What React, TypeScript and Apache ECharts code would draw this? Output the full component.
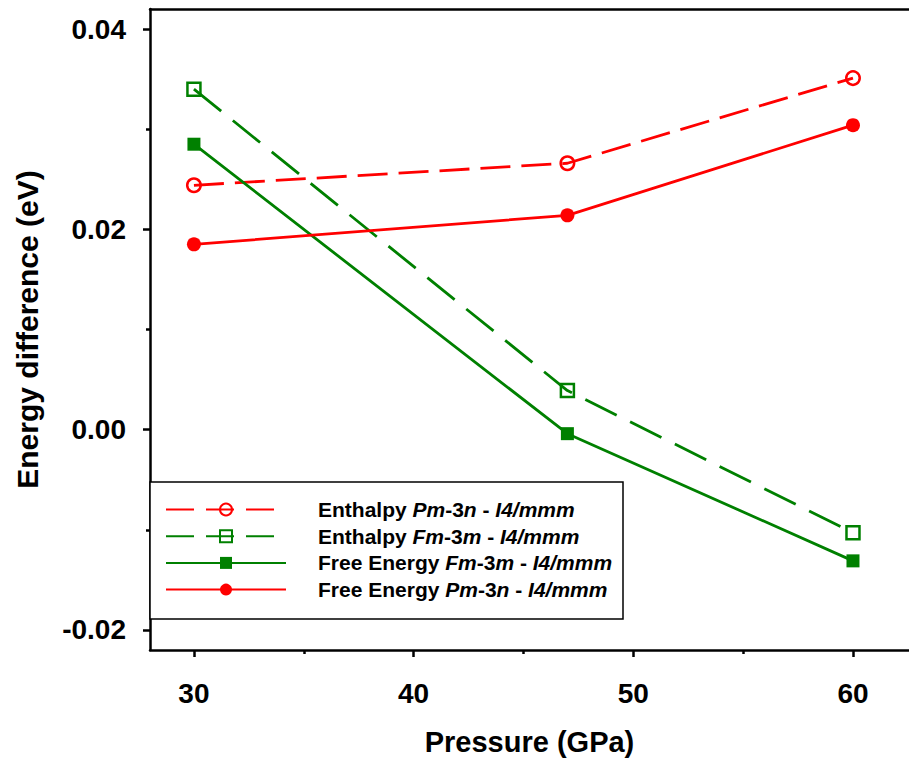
import React, { useEffect, useRef } from "react";
import * as echarts from "echarts";

// Pressure points (GPa)
const pressures = [30, 47, 60];

// Energy differences (eV)
const enthalpyPm3n = [0.0244, 0.0266, 0.0351];
const enthalpyFm3m = [0.034, 0.0039, -0.0103];
const freeEnergyFm3m = [0.0285, -0.0004, -0.0131];
const freeEnergyPm3n = [0.0185, 0.0214, 0.0304];

// Axis ticks
const xMajorTicks = [30, 40, 50, 60];
const xMinorTicks = [35, 45, 55];
const yMajorTicks = [-0.02, 0, 0.02, 0.04];
const yMinorTicks = [-0.01, 0.01, 0.03];

const seriesNames = [
  "Enthalpy Pm-3n - I4/mmm",
  "Enthalpy Fm-3m - I4/mmm",
  "Free Energy Fm-3m - I4/mmm",
  "Free Energy Pm-3n - I4/mmm",
];

// Rich-text legend labels (italic space-group symbols)
const legendLabels: Record<string, string> = {
  [seriesNames[0]]: "{b|Enthalpy }{i|Pm}{b|-3}{i|n}{b| - }{i|I4/mmm}",
  [seriesNames[1]]: "{b|Enthalpy }{i|Fm}{b|-3}{i|m}{b| - }{i|I4/mmm}",
  [seriesNames[2]]: "{b|Free Energy }{i|Fm}{b|-3}{i|m}{b| - }{i|I4/mmm}",
  [seriesNames[3]]: "{b|Free Energy }{i|Pm}{b|-3}{i|n}{b| - }{i|I4/mmm}",
};

const RED = "#ff0000";
const GREEN = "#008000";
const FONT = "'Liberation Sans', Arial, sans-serif";

const pairs = (ys: number[]) => pressures.map((p, i) => [p, ys[i]]);

export default function App() {
  const ref = useRef<HTMLDivElement>(null);

  useEffect(() => {
    document.body.style.margin = "0";
    if (!ref.current) return;
    const chart = echarts.init(ref.current, undefined, { renderer: "svg" });

    const bold = (size: number) => ({
      fontFamily: FONT,
      fontWeight: "bold" as const,
      fontSize: size,
      color: "#000",
    });

    const lineSeries = (
      name: string,
      ys: number[],
      color: string,
      dash: number[] | null,
      symbol: string,
      size: number,
      hollow: boolean
    ) => ({
      name,
      type: "line",
      xAxisIndex: 0,
      yAxisIndex: 0,
      data: pairs(ys),
      symbol,
      symbolSize: size,
      showAllSymbol: true,
      lineStyle: {
        color,
        width: 2.8,
        type: dash ? dash : "solid",
      },
      itemStyle: hollow
        ? { color: "rgba(0,0,0,0)", borderColor: color, borderWidth: 2.5 }
        : { color, borderWidth: 0 },
      emphasis: { disabled: true },
    });

    const X_MIN = 28;
    const X_MAX = 62.55;
    const Y_MIN = -0.022;
    const Y_MAX = 0.042;

    const legendDash = [28, 12];

    chart.setOption({
      animation: false,
      backgroundColor: "#fff",
      grid: {
        left: 150,
        top: 9,
        right: 0,
        bottom: 108,
      },
      xAxis: [
        {
          type: "value",
          min: X_MIN,
          max: X_MAX,
          position: "bottom",
          name: "Pressure (GPa)",
          nameLocation: "middle",
          nameGap: 77,
          nameTextStyle: bold(29),
          axisLine: { show: true, onZero: false, lineStyle: { color: "#000", width: 2.5 } },
          axisTick: {
            show: true,
            customValues: xMajorTicks,
            length: 7,
            lineStyle: { color: "#000", width: 2.5 },
          },
          axisLabel: { ...bold(28), customValues: xMajorTicks, margin: 29 },
          splitLine: { show: false },
        },
        {
          type: "value",
          min: X_MIN,
          max: X_MAX,
          position: "bottom",
          axisLine: { show: false, onZero: false },
          axisTick: {
            show: true,
            customValues: xMinorTicks,
            length: 4,
            lineStyle: { color: "#000", width: 2.5 },
          },
          axisLabel: { show: false },
          splitLine: { show: false },
        },
        {
          // top frame line
          type: "value",
          min: X_MIN,
          max: X_MAX,
          position: "top",
          axisLine: { show: true, onZero: false, lineStyle: { color: "#000", width: 2.5 } },
          axisTick: { show: false },
          axisLabel: { show: false },
          splitLine: { show: false },
        },
      ],
      yAxis: [
        {
          type: "value",
          min: Y_MIN,
          max: Y_MAX,
          position: "left",
          name: "Energy difference (eV)",
          nameLocation: "middle",
          nameGap: 108,
          nameRotate: 90,
          nameTextStyle: bold(30),
          axisLine: { show: true, onZero: false, lineStyle: { color: "#000", width: 2.5 } },
          axisTick: {
            show: true,
            customValues: yMajorTicks,
            length: 7,
            lineStyle: { color: "#000", width: 2.5 },
          },
          axisLabel: {
            ...bold(28),
            customValues: yMajorTicks,
            margin: 24,
            formatter: (v: number) => v.toFixed(2),
          },
          splitLine: { show: false },
        },
        {
          type: "value",
          min: Y_MIN,
          max: Y_MAX,
          position: "left",
          axisLine: { show: false, onZero: false },
          axisTick: {
            show: true,
            customValues: yMinorTicks,
            length: 4,
            lineStyle: { color: "#000", width: 2.5 },
          },
          axisLabel: { show: false },
          splitLine: { show: false },
        },
      ],
      graphic: [
        {
          type: "rect",
          z: 3,
          shape: { x: 150, y: 482, width: 473, height: 137 },
          style: { fill: "#fff", stroke: "#000", lineWidth: 1.5 },
        },
      ],
      legend: {
        orient: "vertical",
        left: 165,
        top: 499,
        padding: 0,
        itemWidth: 120,
        itemHeight: 15,
        itemGap: 5.7,
        selectedMode: false,
        z: 5,
        data: [
          { name: seriesNames[0], lineStyle: { type: legendDash } },
          { name: seriesNames[1], lineStyle: { type: legendDash } },
          { name: seriesNames[2] },
          { name: seriesNames[3] },
        ],
        formatter: (name: string) => legendLabels[name],
        textStyle: {
          fontFamily: FONT,
          fontSize: 21,
          color: "#000",
          padding: [0, 0, 0, 27],
          rich: {
            b: { fontFamily: FONT, fontSize: 21, lineHeight: 22, fontWeight: "bold", fontStyle: "normal", color: "#000" },
            i: { fontFamily: FONT, fontSize: 21, lineHeight: 22, fontWeight: "bold", fontStyle: "italic", color: "#000" },
          },
        },
      },
      series: [
        lineSeries(seriesNames[0], enthalpyPm3n, RED, [30, 11], "circle", 13.5, true),
        lineSeries(seriesNames[1], enthalpyFm3m, GREEN, [35, 15], "rect", 13, true),
        lineSeries(seriesNames[2], freeEnergyFm3m, GREEN, null, "rect", 13, false),
        lineSeries(seriesNames[3], freeEnergyPm3n, RED, null, "circle", 14, false),
      ],
    });

    return () => chart.dispose();
  }, []);

  return <div ref={ref} style={{ width: 909, height: 761 }} />;
}
